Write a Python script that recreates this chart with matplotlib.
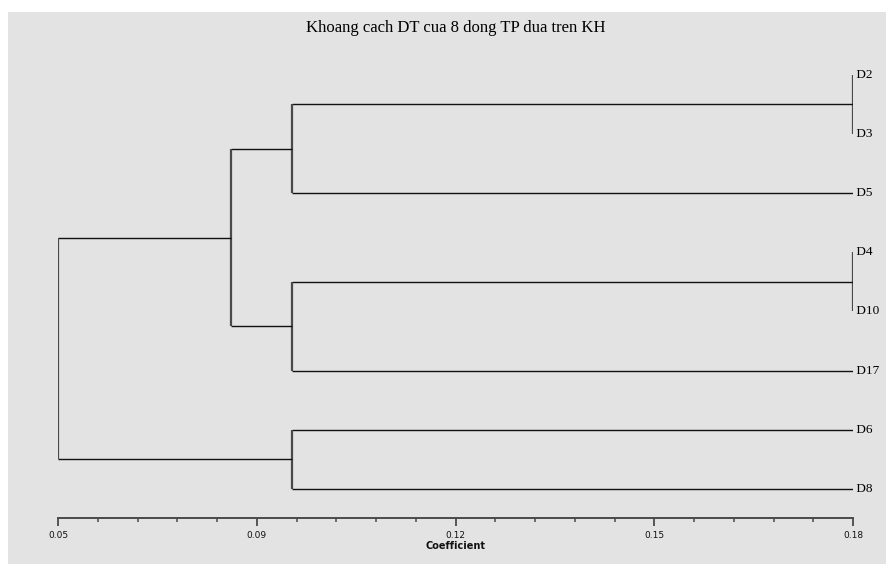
import matplotlib
matplotlib.use("Agg")
import matplotlib.pyplot as plt
from matplotlib.patches import Rectangle
import numpy as np

# ---- data ----
title = "Khoang cach DT cua 8 dong TP dua tren KH"
xlabel = "Coefficient"
leaves = ["D2", "D3", "D5", "D4", "D10", "D17", "D6", "D8"]
# merges: (child_a, child_b, coefficient); ids 0..7 are leaves, 8+ are merged clusters
merge_a = [0, 3, 6, 8, 9, 11, 13]
merge_b = [1, 4, 7, 2, 5, 12, 10]
merge_h = [0.18, 0.18, 0.0883, 0.0883, 0.0883, 0.0783, 0.05]
tick_values = [0.05, 0.0825, 0.115, 0.1475, 0.18]
tick_labels = ["0.05", "0.09", "0.12", "0.15", "0.18"]
leaf_coef = 0.18

W, H = 886, 564
fig = plt.figure(figsize=(W / 100, H / 100), dpi=100)
fig.patch.set_facecolor("white")
fig.patches.append(Rectangle((8 / W, 0), 1 - 8 / W, 1 - 12 / H, transform=fig.transFigure,
                             facecolor="#e3e3e3", edgecolor="none", zorder=-10))

ax = fig.add_axes([58 / W, 1 - 518 / H, (853 - 58) / W, (518 - 60) / H])
ax.set_facecolor("none")
ax.set_zorder(1)

# positions of nodes
ypos = {i: float(i) for i in range(len(leaves))}
hpos = {i: leaf_coef for i in range(len(leaves))}
hcol = "#111111"
vcol = "#4a4a4a"
for k, (a, b, h) in enumerate(zip(merge_a, merge_b, merge_h)):
    nid = len(leaves) + k
    for c in (a, b):
        if hpos[c] != h:
            ax.plot([h, hpos[c]], [ypos[c], ypos[c]], color=hcol, lw=1.0, solid_capstyle="butt")
    ax.plot([h, h], [ypos[a], ypos[b]], color=vcol, lw=1.6, solid_capstyle="butt")
    ypos[nid] = (ypos[a] + ypos[b]) / 2
    hpos[nid] = h

for i, name in enumerate(leaves):
    ax.text(leaf_coef, i, " " + name, ha="left", va="center", fontsize=9.5,
            family="Liberation Serif", color="#000000", clip_on=False)

ax.set_xlim(0.05, 0.18)
ax.set_ylim(len(leaves) - 0.51, -0.25)
for s in ("top", "right", "left"):
    ax.spines[s].set_visible(False)
ax.spines["bottom"].set_color("#4a4a4a")
ax.spines["bottom"].set_linewidth(1.4)
ax.set_yticks([])
ax.set_xticks(tick_values)
ax.set_xticklabels(tick_labels, fontsize=6.5, family="DejaVu Sans", color="#111111")
ax.set_xticks(np.linspace(0.05, 0.18, 21), minor=True)
ax.tick_params(axis="x", which="major", direction="out", length=6, width=1.3, color="#4a4a4a", pad=3)
ax.tick_params(axis="x", which="minor", direction="out", length=3, width=1.1, color="#4a4a4a")
ax.set_xlabel(xlabel, fontsize=7, family="DejaVu Sans", fontweight="bold", color="#111111", labelpad=1)

fig.text(456 / W, 1 - 28 / H, title, ha="center", va="center", fontsize=12,
         family="Liberation Serif", color="#000000")

fig.savefig("out.png", dpi=100)
